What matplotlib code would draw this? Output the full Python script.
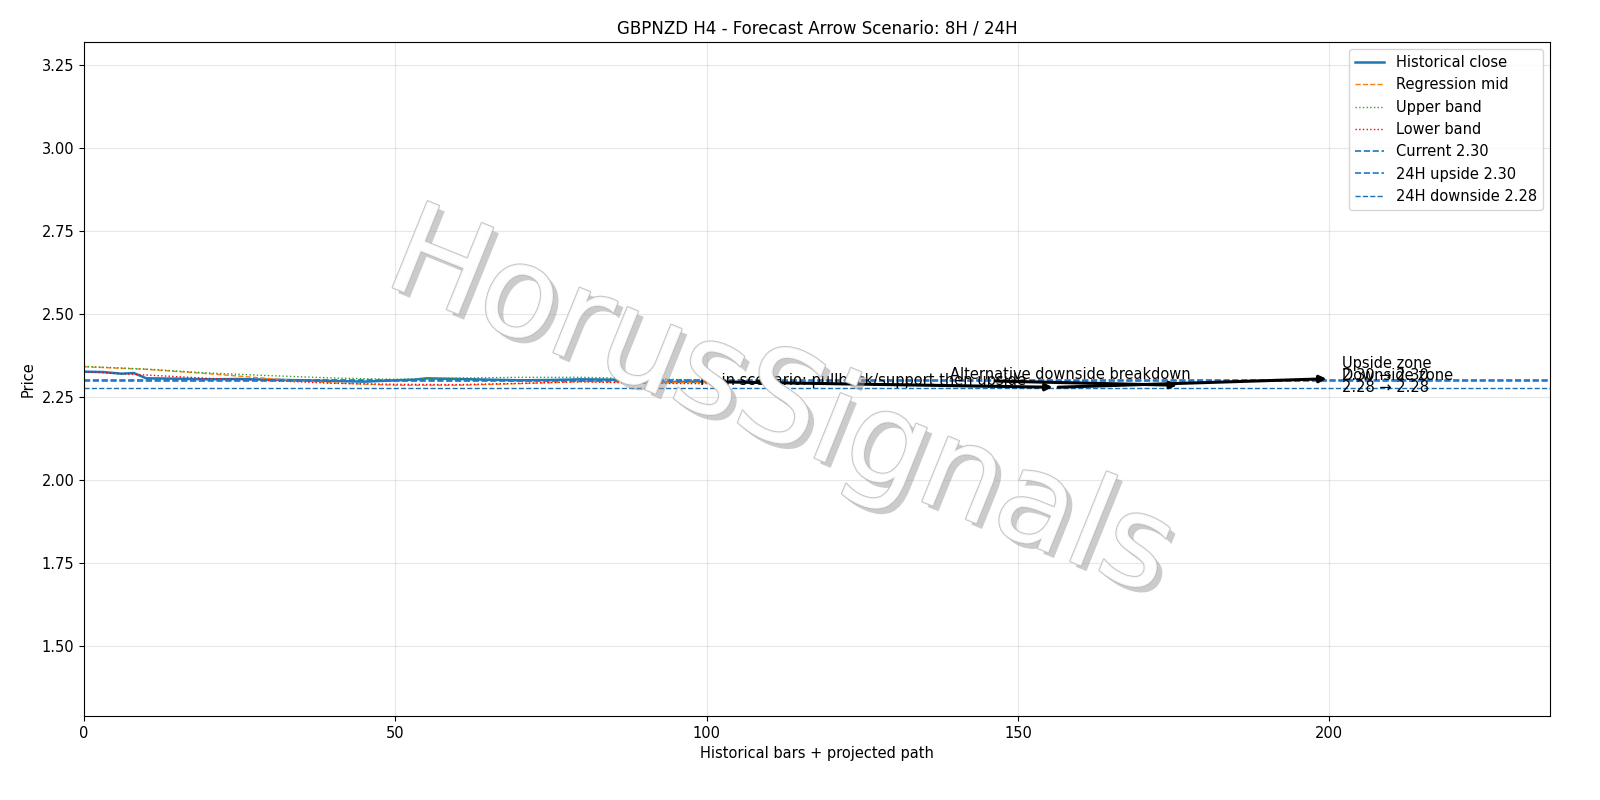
import matplotlib.pyplot as plt
import matplotlib.patheffects as pe

# historical close, sampled every few bars
hist_x = [0, 3, 6, 8, 10, 15, 20, 25, 30, 35, 40, 45, 50, 53, 55, 60, 65, 70, 75, 80, 85, 88, 90, 95, 100]
hist_close = [2.326, 2.325, 2.320, 2.322, 2.306, 2.305, 2.303, 2.304, 2.302, 2.300, 2.298, 2.296, 2.300, 2.302, 2.306,
              2.304, 2.302, 2.300, 2.301, 2.303, 2.302, 2.296, 2.294, 2.295, 2.296]
reg_x = [0, 10, 20, 30, 40, 50, 60, 70, 80, 90, 100]
reg_mid = [2.341, 2.333, 2.320, 2.305, 2.292, 2.285, 2.285, 2.290, 2.296, 2.294, 2.293]
upper_band = [2.342, 2.334, 2.322, 2.314, 2.307, 2.303, 2.307, 2.309, 2.309, 2.305, 2.300]
lower_band = [2.326, 2.316, 2.306, 2.299, 2.291, 2.288, 2.287, 2.291, 2.296, 2.291, 2.290]

current = 2.301
up_24h = 2.297
down_24h = 2.278

# arrows: (x0, y0, x1, y1)
arrows = [(100, 2.296, 156, 2.279), (146, 2.298, 176, 2.285), (156, 2.279, 200, 2.305)]

fig, ax = plt.subplots(figsize=(16, 8), dpi=100)
fig.subplots_adjust(left=0.0525, right=0.969, top=0.9475, bottom=0.105)
ax.plot(hist_x, hist_close, color="tab:blue", lw=1.8, label="Historical close")
ax.plot(reg_x, reg_mid, "--", color="tab:orange", lw=1, label="Regression mid")
ax.plot(reg_x, upper_band, ":", color="tab:green", lw=1, label="Upper band")
ax.plot(reg_x, lower_band, ":", color="red", lw=1, label="Lower band")
ax.axhline(current, ls="--", color="tab:blue", lw=1.2, label=f"Current {current:.2f}")
ax.axhline(up_24h, ls="--", color="#1f77d4", lw=1.2, label=f"24H upside {up_24h:.2f}")
ax.axhline(down_24h, ls="--", color="#1f6fb4", lw=1, label=f"24H downside {down_24h:.2f}")

for x0, y0, x1, y1 in arrows:
    ax.annotate("", xy=(x1, y1), xytext=(x0, y0),
                arrowprops=dict(arrowstyle="-|>", color="black", lw=2.2))
ax.text(99, 2.287, "Main scenario: pullback/support then upside", fontsize=10.5)
ax.text(139, 2.303, "Alternative downside breakdown", fontsize=10.5)
ax.text(202, 2.300, "Upside zone\n2.30 → 2.30", fontsize=10.5, linespacing=0.8)
ax.text(202, 2.264, "Downside zone\n2.28 → 2.28", fontsize=10.5, linespacing=0.8)

ax.text(0.475, 0.46, "HorusSignals", transform=ax.transAxes, fontsize=92, color="white",
        rotation=-22, ha="center", va="center", alpha=0.85,
        path_effects=[pe.withSimplePatchShadow(offset=(4, -4), shadow_rgbFace="#999999", alpha=0.5),
                      pe.Stroke(linewidth=1.5, foreground="#bbbbbb"), pe.Normal()])

ax.set_xlim(0, 235.5)
ax.set_ylim(1.289, 3.319)
ax.set_title("GBPNZD H4 - Forecast Arrow Scenario: 8H / 24H", fontsize=12)
ax.set_xlabel("Historical bars + projected path", fontsize=10.5)
ax.set_ylabel("Price", fontsize=10.5)
ax.tick_params(labelsize=10.5)
ax.grid(alpha=0.3)
ax.legend(loc="upper right", fontsize=10.5)
fig.savefig("out.png")
